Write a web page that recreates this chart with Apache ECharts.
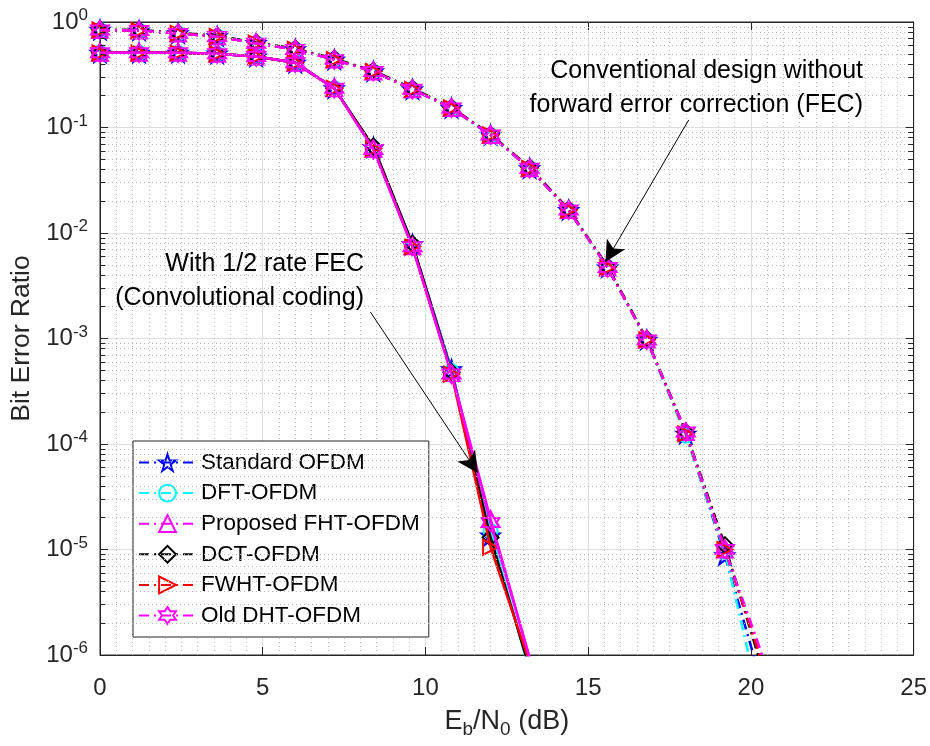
<!DOCTYPE html>
<html>
<head>
<meta charset="utf-8">
<script src="https://cdn.jsdelivr.net/npm/echarts@6/dist/echarts.min.js"></script>
<style>html,body{margin:0;padding:0;background:#fff}#c{width:930px;height:746px}</style>
</head>
<body>
<div id="c"></div>
<script>
// ---- data ----
const seriesNames = ['Standard OFDM', 'DFT-OFDM', 'Proposed FHT-OFDM', 'DCT-OFDM', 'FWHT-OFDM', 'Old DHT-OFDM'];
const xUncoded = [0, 1.2, 2.4, 3.6, 4.8, 6, 7.2, 8.4, 9.6, 10.8, 12, 13.2, 14.4, 15.6, 16.8, 18, 19.2, 20.4];
const xCoded = [0, 1.2, 2.4, 3.6, 4.8, 6, 7.2, 8.4, 9.6, 10.8, 12, 13.2];

const unStd  = [0.84, 0.83, 0.78, 0.73, 0.63, 0.55, 0.44, 0.34, 0.23, 0.153, 0.085, 0.041, 0.0165, 0.0047, 0.00097, 1.25e-4, 8.8e-6, 4.5e-7];
const unDft  = [0.84, 0.83, 0.78, 0.73, 0.63, 0.55, 0.44, 0.34, 0.23, 0.152, 0.084, 0.041, 0.0163, 0.0047, 0.00096, 1.2e-4, 9.5e-6, 2.4e-7];
const unFht  = [0.84, 0.83, 0.78, 0.73, 0.63, 0.55, 0.44, 0.34, 0.23, 0.153, 0.085, 0.041, 0.0165, 0.0047, 0.00098, 1.3e-4, 1.0e-5, 8.5e-7];
const unDct  = [0.85, 0.84, 0.79, 0.74, 0.64, 0.56, 0.45, 0.345, 0.235, 0.155, 0.086, 0.042, 0.0168, 0.0048, 0.00099, 1.3e-4, 1.1e-5, 6.5e-7];
const unFwht = [0.84, 0.83, 0.78, 0.73, 0.63, 0.55, 0.44, 0.34, 0.23, 0.153, 0.085, 0.041, 0.0165, 0.0047, 0.00097, 1.25e-4, 1.0e-5, 7.5e-7];
const unDht  = [0.84, 0.83, 0.78, 0.73, 0.63, 0.55, 0.44, 0.34, 0.23, 0.153, 0.085, 0.041, 0.0165, 0.0047, 0.00097, 1.3e-4, 1.0e-5, 9.0e-7];

const coStd  = [0.51, 0.51, 0.51, 0.50, 0.47, 0.41, 0.235, 0.065, 0.0078, 5.1e-4, 1.35e-5, 7.5e-7];
const coDft  = [0.51, 0.51, 0.51, 0.50, 0.47, 0.41, 0.235, 0.064, 0.0076, 4.9e-4, 1.5e-5, 7.0e-7];
const coFht  = [0.51, 0.51, 0.51, 0.50, 0.47, 0.41, 0.235, 0.063, 0.0075, 4.7e-4, 1.95e-5, 9.4e-7];
const coDct  = [0.51, 0.51, 0.51, 0.50, 0.47, 0.41, 0.235, 0.066, 0.0079, 4.8e-4, 1.3e-5, 7.4e-7];
const coFwht = [0.51, 0.51, 0.51, 0.50, 0.47, 0.41, 0.235, 0.063, 0.0074, 4.6e-4, 1.05e-5, 8.5e-7];
const coDht  = [0.51, 0.51, 0.51, 0.50, 0.47, 0.41, 0.235, 0.062, 0.0074, 4.6e-4, 1.8e-5, 9.4e-7];

const uncodedSets = [unStd, unDft, unFht, unDct, unFwht, unDht];
const codedSets = [coStd, coDft, coFht, coDct, coFwht, coDht];

// annotation anchors (data coordinates)
const arrowUncoded = [[18.09, 0.118], [15.53, 0.0053]];
const arrowCoded = [[8.31, 0.00178], [11.61, 5.3e-5]];

// ---- styles ----
const colors = ['#0000ff', '#00ffff', '#ff00ff', '#000000', '#ff0000', '#ff00ff'];
const symbols = [
  'path://M50,0 L61.2,34.5 L97.6,34.5 L68.2,55.9 L79.4,90.5 L50,69.1 L20.6,90.5 L31.8,55.9 L2.4,34.5 L38.8,34.5 Z',
  'circle',
  'triangle',
  'diamond',
  'path://M0,0 L100,50 L0,100 Z',
  'path://M50,0 L64.4,25 L93.3,25 L78.9,50 L93.3,75 L64.4,75 L50,100 L35.6,75 L6.7,75 L21.1,50 L6.7,25 L35.6,25 Z'
];
const symSizes = [18, 14, 16, 16, 15, 18];
const dashDot = [10, 5, 2, 5];

const series = [];
// minor log grid + minor ticks (reference lines at 2..9 x 10^k)
const minorVals = [];
for (let e = -6; e < 0; e++) for (let m = 2; m <= 9; m++) minorVals.push(m * Math.pow(10, e));
const gridLines = [];
minorVals.forEach(v => {
  gridLines.push([{coord: [0, v]}, {coord: [25, v]}]);
});
const tickLines = [];
minorVals.forEach(v => {
  tickLines.push([{coord: [0, v]}, {coord: [0.17, v]}]);
  tickLines.push([{coord: [24.83, v]}, {coord: [25, v]}]);
});
series.push({
  name: '_grid', type: 'line', data: [], silent: true, z: 1,
  markLine: {silent: true, symbol: 'none', label: {show: false}, animation: false,
    lineStyle: {color: '#b8b8b8', width: 1, type: [1, 3]}, data: gridLines}
});
series.push({
  name: '_ticks', type: 'line', data: [], silent: true, z: 5,
  markLine: {silent: true, symbol: 'none', label: {show: false}, animation: false,
    lineStyle: {color: '#262626', width: 1, type: 'solid'}, data: tickLines}
});

seriesNames.forEach((n, i) => {
  series.push({
    name: n, type: 'line', z: 3 + i * 0.01,
    data: xUncoded.map((x, k) => [x, uncodedSets[i][k]]),
    symbol: symbols[i], symbolSize: symSizes[i],
    lineStyle: {color: colors[i], width: 2.5, type: dashDot},
    itemStyle: {color: 'rgba(0,0,0,0)', borderColor: colors[i], borderWidth: 2},
    emphasis: {disabled: true}
  });
});
seriesNames.forEach((n, i) => {
  series.push({
    name: n, type: 'line', z: 3 + i * 0.01,
    data: xCoded.map((x, k) => [x, codedSets[i][k]]),
    symbol: symbols[i], symbolSize: symSizes[i],
    lineStyle: {color: colors[i], width: 2.5, type: 'solid'},
    itemStyle: {color: 'rgba(0,0,0,0)', borderColor: colors[i], borderWidth: 2},
    emphasis: {disabled: true}
  });
});
series.push({
  name: '_annot', type: 'line', data: [], silent: true, z: 10,
  markLine: {silent: true, label: {show: false}, animation: false,
    symbol: ['none', 'arrow'], symbolSize: [16, 21],
    lineStyle: {color: '#000', width: 1, type: 'solid'},
    data: [
      [{coord: arrowUncoded[0]}, {coord: arrowUncoded[1]}],
      [{coord: arrowCoded[0]}, {coord: arrowCoded[1]}]
    ]}
});

const axisColor = '#262626';
const fontFam = '"Liberation Sans", Arial, Helvetica, sans-serif';

const chart = echarts.init(document.getElementById('c'), null, {renderer: 'canvas'});
chart.setOption({
  animation: false,
  backgroundColor: '#fff',
  textStyle: {fontFamily: fontFam},
  grid: {left: 100, right: 12, top: 22, bottom: 91, show: true, borderColor: axisColor, borderWidth: 1, backgroundColor: 'transparent'},
  legend: {
    show: true, orient: 'vertical', left: 133, top: 441,
    data: seriesNames,
    itemWidth: 57, itemHeight: 21, itemGap: 7.6,
    padding: [10, 9, 10, 5],
    backgroundColor: '#fff', borderColor: axisColor, borderWidth: 1,
    textStyle: {fontSize: 22.5, color: '#000', fontFamily: fontFam, lineHeight: 22},
    selectedMode: false
  },
  xAxis: [{
    type: 'value', min: 0, max: 25, interval: 5,
    name: '{n|E}{s|b}{n|/N}{s|0}{n| (dB)}', nameLocation: 'middle', nameGap: 50,
    nameTextStyle: {rich: {
      n: {fontSize: 27, color: axisColor, fontFamily: fontFam},
      s: {fontSize: 19, color: axisColor, fontFamily: fontFam, padding: [15, 0, 0, 0]}
    }},
    axisLine: {show: true, onZero: false, lineStyle: {color: axisColor, width: 1}},
    axisTick: {show: true, inside: true, length: 8, lineStyle: {color: axisColor}},
    axisLabel: {fontSize: 24, color: axisColor, margin: 21, fontFamily: fontFam},
    splitLine: {show: true, lineStyle: {color: '#dedede', width: 1}},
    minorTick: {show: false, splitNumber: 10},
    minorSplitLine: {show: true, lineStyle: {color: '#b8b8b8', width: 1, type: [1, 3]}}
  }, {
    type: 'value', min: 0, max: 25, interval: 5, position: 'top',
    axisLine: {show: true, onZero: false, lineStyle: {color: axisColor}},
    axisTick: {show: true, inside: true, length: 8, lineStyle: {color: axisColor}},
    axisLabel: {show: false}, splitLine: {show: false}
  }],
  yAxis: [{
    type: 'log', logBase: 10, min: 1e-6, max: 1, interval: 1,
    name: 'Bit Error Ratio', nameLocation: 'middle', nameGap: 56,
    nameTextStyle: {fontSize: 26.5, color: axisColor, fontFamily: fontFam},
    axisLine: {show: true, onZero: false, lineStyle: {color: axisColor, width: 1}},
    axisTick: {show: true, inside: true, length: 8, lineStyle: {color: axisColor}},
    axisLabel: {
      margin: 12,
      formatter: v => '{b|10}{s|' + Math.round(Math.log10(v)) + '}',
      rich: {
        b: {fontSize: 24, color: axisColor, fontFamily: fontFam},
        s: {fontSize: 17, color: axisColor, fontFamily: fontFam, padding: [0, 0, 13, 0]}
      }
    },
    splitLine: {show: true, lineStyle: {color: '#dedede', width: 1}}
  }, {
    type: 'log', logBase: 10, min: 1e-6, max: 1, interval: 1, position: 'right',
    axisLine: {show: true, onZero: false, lineStyle: {color: axisColor}},
    axisTick: {show: true, inside: true, length: 8, lineStyle: {color: axisColor}},
    axisLabel: {show: false}, splitLine: {show: false}
  }],
  graphic: [
    {type: 'text', x: 863, y: 88, z: 100,
      style: {text: 'Conventional design without\nforward error correction (FEC)', fontSize: 25, lineHeight: 34,
        fill: '#000', align: 'right', verticalAlign: 'middle', fontFamily: fontFam}},
    {type: 'text', x: 364, y: 281, z: 100,
      style: {text: 'With 1/2 rate FEC\n(Convolutional coding)', fontSize: 25, lineHeight: 34,
        fill: '#000', align: 'right', verticalAlign: 'middle', fontFamily: fontFam}}
  ],
  series: series
});
</script>
</body>
</html>
